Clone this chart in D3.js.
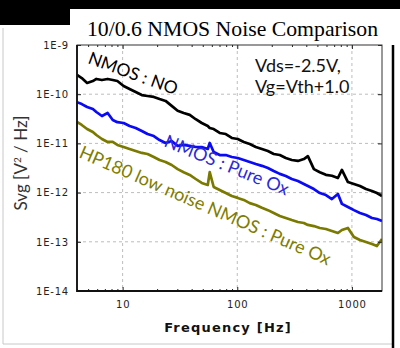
<!DOCTYPE html>
<html>
<head>
<meta charset="utf-8">
<script src="https://cdn.jsdelivr.net/npm/d3@7"></script>
<style>
  body { margin: 0; background: #fff; }
  svg { display: block; }
</style>
</head>
<body>
<div id="chart"></div>
<script>
// frequencies (Hz)
const freq = [4.0, 4.4, 4.9, 5.5, 5.9, 6.6, 7.4, 8.2, 9.0, 10.2,
  11.5, 13, 14.7, 16.5, 18.7, 21.0, 23.7, 26.8, 30.2, 34.1,
  38.5, 43.4, 49.0, 55.3, 57.5, 62.3, 70.3, 79.4, 89.6, 101,
  114, 128.5, 145, 164, 185, 208, 235, 265, 299, 338,
  381, 413, 466, 525, 593, 669, 755, 818, 923, 1041,
  1175, 1326, 1495, 1652, 1830];

// NMOS : NO (black)
const svgNO = [2.46e-10, 2.13e-10, 1.69e-10, 1.85e-10, 2.04e-10, 1.94e-10, 2.04e-10, 1.94e-10, 1.85e-10, 1.47e-10,
  1.28e-10, 1.11e-10, 9.6e-11, 9.2e-11, 8.8e-11, 8.0e-11, 7.3e-11, 5.8e-11, 4.6e-11, 4.15e-11,
  3.8e-11, 3.1e-11, 2.6e-11, 2.26e-11, 2.06e-11, 1.96e-11, 1.63e-11, 1.55e-11, 1.29e-11, 1.23e-11,
  1.07e-11, 9.7e-12, 8.45e-12, 7.7e-12, 7.0e-12, 6.1e-12, 5.8e-12, 5.05e-12, 4.6e-12, 4.4e-12,
  4.8e-12, 5.5e-12, 3.0e-12, 2.6e-12, 2.3e-12, 2.2e-12, 1.98e-12, 2.9e-12, 1.64e-12, 1.5e-12,
  1.36e-12, 1.18e-12, 1.08e-12, 9.8e-13, 8.5e-13];

// NMOS : Pure Ox (blue)
const svgPureOx = [6.9e-11, 6.3e-11, 5.5e-11, 5.0e-11, 4.35e-11, 3.6e-11, 4.15e-11, 3.0e-11, 2.7e-11, 2.6e-11,
  2.26e-11, 2.06e-11, 1.79e-11, 1.55e-11, 1.41e-11, 1.17e-11, 1.02e-11, 1.12e-11, 8.9e-12, 9.3e-12,
  8.9e-12, 8.45e-12, 8.45e-12, 7.7e-12, 1.02e-11, 6.7e-12, 5.8e-12, 5.8e-12, 5.3e-12, 5.05e-12,
  4.6e-12, 4.2e-12, 3.8e-12, 3.5e-12, 3.16e-12, 2.75e-12, 2.4e-12, 2.17e-12, 1.89e-12, 1.72e-12,
  1.5e-12, 1.36e-12, 1.18e-12, 9.8e-13, 8.9e-13, 7.4e-13, 9.4e-13, 5.9e-13, 5.1e-13, 4.4e-13,
  3.85e-13, 3.5e-13, 3.05e-13, 2.9e-13, 2.65e-13];

// HP180 low noise NMOS : Pure Ox (olive)
const svgHP180 = [2.72e-11, 2.37e-11, 1.96e-11, 1.71e-11, 1.48e-11, 1.23e-11, 1.07e-11, 1.07e-11, 9.3e-12, 8.45e-12,
  7.7e-12, 7.0e-12, 6.4e-12, 6.1e-12, 5.3e-12, 4.6e-12, 4.2e-12, 3.64e-12, 3.0e-12, 2.6e-12,
  2.28e-12, 1.89e-12, 1.57e-12, 1.43e-12, 2.6e-12, 1.3e-12, 1.13e-12, 9.8e-13, 8.5e-13, 7.8e-13,
  7.1e-13, 6.1e-13, 5.6e-13, 4.9e-13, 4.4e-13, 3.85e-13, 3.35e-13, 3.05e-13, 2.77e-13, 2.53e-13,
  2.41e-13, 2.2e-13, 2.09e-13, 1.91e-13, 1.82e-13, 1.66e-13, 1.51e-13, 1.74e-13, 1.91e-13, 1.25e-13,
  1.09e-13, 9.9e-14, 9.0e-14, 8.2e-14, 1.14e-13];

const yTicks = [1e-9, 1e-10, 1e-11, 1e-12, 1e-13, 1e-14];
const yTickLabels = ["1E-9", "1E-10", "1E-11", "1E-12", "1E-13", "1E-14"];
const xTicks = [10, 100, 1000];
const xTickLabels = ["10", "100", "1000"];

const W = 400, H = 348;
const L = 77, R = 382, T = 45, B = 291;

const svg = d3.select("#chart").append("svg")
  .attr("width", W).attr("height", H);

// slide frame bits
svg.append("rect").attr("x", 0).attr("y", 0).attr("width", W).attr("height", 9).attr("fill", "#000");
svg.append("rect").attr("x", 0).attr("y", 0).attr("width", 70).attr("height", 25).attr("fill", "#000");
svg.append("path").attr("d", `M3,28V344H392`).attr("fill", "none").attr("stroke", "#c8c8c8").attr("stroke-width", 1);
svg.append("line").attr("x1", 393).attr("x2", 393).attr("y1", 45).attr("y2", H)
  .attr("stroke", "#000").attr("stroke-width", 2.5);

const x = d3.scaleLog().domain([4, 1830]).range([L, R]);
const y = d3.scaleLog().domain([1e-14, 1e-9]).range([B, T]);

// dashed grid
const grid = svg.append("g").attr("stroke", "#bdbdbd").attr("stroke-dasharray", "3,3").attr("stroke-width", 1);
grid.selectAll(".gx").data(xTicks).enter().append("line")
  .attr("x1", d => x(d)).attr("x2", d => x(d)).attr("y1", T).attr("y2", B);
grid.selectAll(".gy").data(yTicks.slice(1, -1)).enter().append("line")
  .attr("x1", L).attr("x2", R).attr("y1", d => y(d)).attr("y2", d => y(d));

svg.append("clipPath").attr("id", "plot").append("rect")
  .attr("x", L).attr("y", T).attr("width", R - L).attr("height", B - T);

const line = d3.line().x(d => x(d[0])).y(d => y(d[1]));
const series = [
  { values: svgHP180, color: "#7a7a00" },
  { values: svgPureOx, color: "#0a0af5" },
  { values: svgNO, color: "#000" }
];
svg.append("g").attr("clip-path", "url(#plot)")
  .selectAll("path").data(series).enter().append("path")
  .attr("d", s => line(freq.map((f, i) => [f, s.values[i]])))
  .attr("fill", "none")
  .attr("stroke", s => s.color)
  .attr("stroke-width", 2.7)
  .attr("stroke-linejoin", "round");

// axes with inward ticks
const minorX = [];
[1, 10, 100, 1000].forEach(p => { for (let k = 2; k <= 9; k++) { const v = p * k; if (v >= 4 && v <= 1830) minorX.push(v); } });

const axes = svg.append("g");
axes.append("g").attr("transform", `translate(0,${B})`)
  .call(d3.axisBottom(x).tickValues(minorX).tickSize(-2).tickFormat(""));
axes.append("g").attr("transform", `translate(0,${T})`)
  .call(d3.axisTop(x).tickValues(minorX).tickSize(-2).tickFormat(""));
axes.append("g").attr("transform", `translate(0,${B})`)
  .call(d3.axisBottom(x).tickValues(xTicks).tickSize(-4).tickPadding(10)
    .tickFormat((d, i) => xTickLabels[i]));
axes.append("g").attr("transform", `translate(0,${T})`)
  .call(d3.axisTop(x).tickValues(xTicks).tickSize(-4).tickFormat(""));
axes.append("g").attr("transform", `translate(${L},0)`)
  .call(d3.axisLeft(y).tickValues(yTicks).tickSize(-4).tickPadding(8)
    .tickFormat((d, i) => yTickLabels[i]));
axes.append("g").attr("transform", `translate(${R},0)`)
  .call(d3.axisRight(y).tickValues(yTicks).tickSize(-4).tickFormat(""));
axes.selectAll(".domain").remove();
axes.selectAll(".tick line").attr("stroke", "#222").attr("stroke-width", 1);
axes.selectAll(".tick text")
  .attr("font-family", "'DejaVu Sans', sans-serif")
  .attr("font-size", 10)
  .attr("letter-spacing", 0.8)
  .attr("fill", "#222");

svg.append("rect").attr("x", L).attr("y", T).attr("width", R - L).attr("height", B - T)
  .attr("fill", "none").attr("stroke", "#333").attr("stroke-width", 1);
svg.append("path").attr("d", `M${L},${T}V${B}H${R}`)
  .attr("fill", "none").attr("stroke", "#111").attr("stroke-width", 1.8);

// title
svg.append("text").attr("x", 87).attr("y", 36)
  .attr("font-family", "'Liberation Serif', serif").attr("font-size", 22)
  .attr("textLength", 291).attr("lengthAdjust", "spacingAndGlyphs")
  .text("10/0.6 NMOS Noise Comparison");

// axis titles
svg.append("text").attr("x", 228).attr("y", 332).attr("text-anchor", "middle")
  .attr("font-family", "'DejaVu Sans', sans-serif").attr("font-weight", "bold")
  .attr("font-size", 13).attr("letter-spacing", 1.2).attr("fill", "#111")
  .text("Frequency [Hz]");

const yt = svg.append("text").attr("transform", "translate(27,163) rotate(-90)")
  .attr("text-anchor", "middle")
  .attr("font-family", "Lato, sans-serif").attr("font-size", 17).attr("fill", "#333");
yt.append("tspan").text("Svg [V");
yt.append("tspan").attr("dy", -6).attr("font-size", 10).text("2");
yt.append("tspan").attr("dy", 6).text(" / Hz]");

// annotations
const note = svg.append("g").attr("font-family", "Lato, sans-serif").attr("font-size", 18).attr("fill", "#111");
note.append("text").attr("x", 255).attr("y", 72).text("Vds=-2.5V,");
note.append("text").attr("x", 255).attr("y", 93).text("Vg=Vth+1.0");

const labels = [
  { text: "NMOS : NO", x: 87, y: 63, angle: 20, color: "#000", size: 17.5 },
  { text: "NMOS : Pure Ox", x: 163, y: 146, angle: 22, color: "#2b2bd6", size: 18 },
  { text: "HP180 low noise NMOS : Pure Ox", x: 78, y: 157, angle: 23.5, color: "#7d7d00", size: 18 }
];
svg.selectAll(".lbl").data(labels).enter().append("text")
  .attr("transform", d => `translate(${d.x},${d.y}) rotate(${d.angle})`)
  .attr("font-family", "Lato, sans-serif")
  .attr("font-size", d => d.size)
  .attr("fill", d => d.color)
  .text(d => d.text);
</script>
</body>
</html>
